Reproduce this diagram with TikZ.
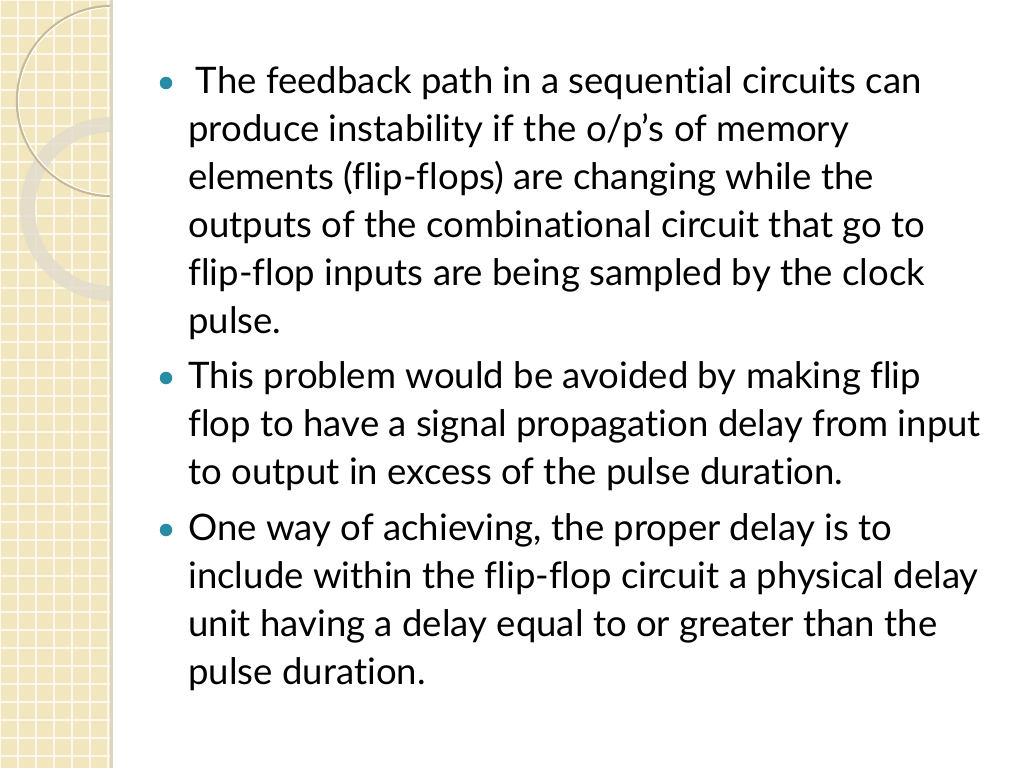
\documentclass[tikz,border=0pt]{standalone}
\usepackage{fontspec}
\setmainfont[Ligatures={NoCommon}]{Lato}
\usetikzlibrary{positioning}
\definecolor{sbuff}{RGB}{242,230,190}
\definecolor{sgrid}{RGB}{252,248,236}
\definecolor{sring}{RGB}{225,220,205}
\definecolor{sline}{RGB}{200,185,150}
\definecolor{steal}{RGB}{40,140,165}
\tikzset{
  para/.style={anchor=north west, align=left, inner sep=0pt,
    font=\fontsize{20.8pt}{27.3pt}\selectfont},
  dot/.style={circle, fill=steal, inner sep=0pt, minimum size=0.25cm}
}
\begin{document}
\begin{tikzpicture}[x=0.02cm,y=-0.02cm]
        % background
        \useasboundingbox (0,0) rectangle (1024,768);
        \fill[white] (0,0) rectangle (1024,768);
        % side strip
        \fill[sbuff] (0,0) rectangle (113,768);
        \begin{scope}
            \clip (0,0) rectangle (113,768);
            \foreach \x in {0,18,...,112}
                \draw[sgrid, line width=0.8pt] (\x,0) -- (\x,768);
            \foreach \y in {0,18,...,768}
                \draw[sgrid, line width=0.8pt] (0,\y) -- (113,\y);
            % rings
            \draw[sring, even odd rule, fill=sring, fill opacity=0.85, draw=none]
                (112,209) circle[radius=92] (112,209) circle[radius=77];
            \draw[sline, line width=1.4pt] (112,101) circle[radius=95];
            \draw[white, line width=0.6pt] (112,101) circle[radius=93.5];
        \end{scope}
        \fill[sline!60] (110,0) rectangle (113,768);

        % bullets
        \node[dot] (b1) at (166,83) {};
        \node[dot] (b2) at (166,378) {};
        \node[dot] (b3) at (166,530) {};
        \node[para] (t1) at (188,66) {\hspace*{0.15cm}The feedback path in a sequential circuits can\\
          produce instability if the o/p’s of memory\\
          elements (flip-flops) are changing while the\\
          outputs of the combinational circuit that go to\\
          flip-flop inputs are being sampled by the clock\\
          pulse.};
        \node[para] (t2) at (188,361) {This problem would be avoided by making flip\\
          flop to have a signal propagation delay from input\\
          to output in excess of the pulse duration.};
        \node[para] (t3) at (188,513) {One way of achieving, the proper delay is to\\
          include within the flip-flop circuit a physical delay\\
          unit having a delay equal to or greater than the\\
          pulse duration.};
\end{tikzpicture}
\end{document}
